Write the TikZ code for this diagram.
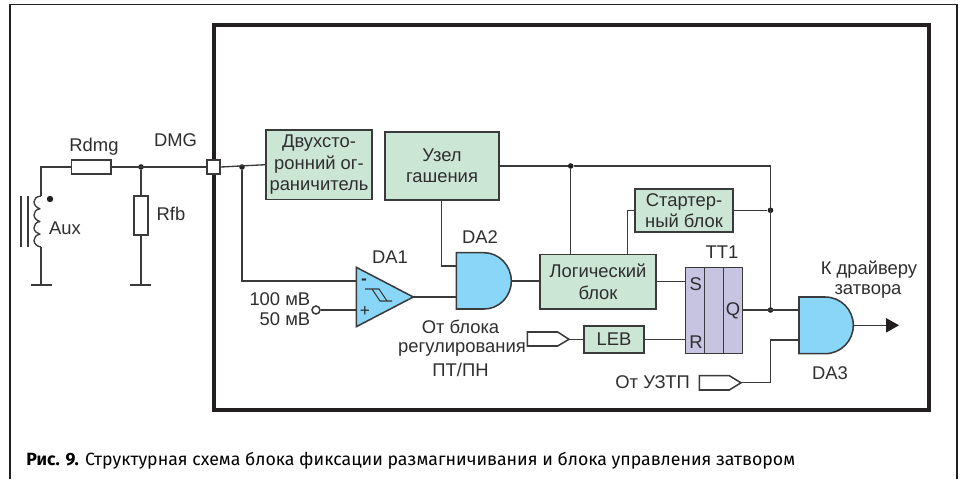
\documentclass[tikz,border=0pt]{standalone}
\usepackage{fontspec}
\setmainfont{Liberation Sans}
\newfontfamily\capfont{Fira Sans}
\definecolor{wirec}{HTML}{3A3A3A}
\definecolor{txtc}{HTML}{2E2E2E}
\definecolor{greenc}{HTML}{CCE6D6}
\definecolor{bluec}{HTML}{8AD6F8}
\definecolor{lavc}{HTML}{C6C4E1}
\definecolor{framec}{HTML}{231F20}
\tikzset{
  wire/.style={draw=wirec,line width=1pt},
  part/.style={draw=wirec,line width=1.15pt},
  gatefill/.style={part,fill=bluec},
  labeltxt/.style={text=txtc,font=\fontsize{13.8}{16}\selectfont,inner sep=0pt,align=center},
  greenbox/.style={part,fill=greenc,text=txtc,font=\fontsize{13.8}{16}\selectfont,inner sep=0pt,align=center},
  sz/.style 2 args={minimum width=#1*0.75pt,minimum height=#2*0.75pt},
  dotn/.style={circle,fill=framec,inner sep=0pt,minimum size=4.2pt},
  res/.style={part,fill=white,inner sep=0pt},
}
\begin{document}
\begin{tikzpicture}[x=0.75pt,y=-0.75pt]
\useasboundingbox (0,0) rectangle (961,479);
\fill[white] (0,0) rectangle (961,479);
% frames
\draw[draw=framec,line width=0.8pt] (10,479) -- (10,4.5) -- (957,4.5) -- (957,479);
\draw[draw=framec,line width=3pt] (214,24.5) rectangle (928.7,409.5);
% boxes
\node[greenbox,sz={106}{69.5}] (lim) at (319,164.7) {Двухсто-\\ронний ог-\\раничитель};
\node[greenbox,sz={114}{68}] (off) at (442,166) {Узел\\гашения};
\node[greenbox,sz={116}{54.5}] (logic) at (598,281.7) {Логический\\блок};
\node[greenbox,sz={98}{43}] (start) at (684,210.6) {Стартер-\\ный блок};
\node[greenbox,sz={60}{27}] (leb) at (614,339.3) {LEB};
% resistors
\node[res,sz={39.5}{14}] (rdmg) at (91.3,167) {};
\node[res,sz={14}{39.5}] (rfb) at (141,215.5) {};
\node[res,sz={13.5}{14}] (pad) at (213.5,167) {};
% named points
\coordinate (nL) at (41,167);
\coordinate (cTop) at (41,196);
\coordinate (cBot) at (41,247);
\coordinate (g1) at (41,285);
\coordinate (g1a) at (31,285);
\coordinate (g1b) at (52,285);
\coordinate (g2) at (141,285);
\coordinate (g2a) at (130,285);
\coordinate (g2b) at (151,285);
\node[dotn] (j1) at (141,167) {};
\node[dotn] (j2) at (242,167) {};
\node[dotn] (j3) at (570.7,166) {};
\node[dotn] (j4) at (770.5,210.3) {};
\node[dotn] (j5) at (770.5,310) {};
\coordinate (c1) at (242,281);
\coordinate (da1m) at (356.3,281);
\coordinate (da1p) at (356.3,310);
\coordinate (da1o) at (413.3,297);
\coordinate (da2a) at (456.3,266);
\coordinate (da2b) at (456.3,297);
\coordinate (da2o) at (511.3,281);
\coordinate (c2) at (441.7,266);
\coordinate (c3) at (770.5,166);
\coordinate (s1) at (627.7,254.5);
\coordinate (s2) at (627.7,210.3);
\coordinate (tS) at (685.7,281.7);
\coordinate (tR) at (685.7,339.3);
\coordinate (tQ) at (742.3,310);
\coordinate (da3a) at (799,310);
\coordinate (da3b) at (799,340);
\coordinate (da3o) at (853.3,325.3);
\coordinate (arr) at (887,325.3);
\coordinate (c4) at (770.5,340);
\coordinate (c5) at (770.5,382.8);
\coordinate (p1t) at (569,339.3);
\coordinate (p2t) at (741,382.8);
% wires
\draw[wire] (cTop) -- (nL) -- (rdmg.west);
\draw[wire] (rdmg.east) -- (pad.west);
\draw[wire] (pad.east) -- (lim.west);
\draw[wire] (j1) -- (rfb.north);
\draw[wire] (rfb.south) -- (g2);
\draw[wire] (cBot) -- (g1);
\draw[wire] (g1a) -- (g1b);
\draw[wire] (g2a) -- (g2b);
\draw[wire] (j2) -- (c1) -- (da1m);
\draw[wire] (da1o) -- (da2b);
\draw[wire] (off.south -| c2) -- (c2) -- (da2a);
\draw[wire] (da2o) -- (logic.west |- da2o);
\draw[wire] (off.east |- j3) -- (j3) -- (c3) -- (j5);
\draw[wire] (j3) -- (logic.north -| j3);
\draw[wire] (s1) -- (s2) -- (start.west |- s2);
\draw[wire] (start.east |- j4) -- (j4);
\draw[wire] (logic.east |- tS) -- (tS);
\draw[wire] (leb.east) -- (tR);
\draw[wire] (tQ) -- (da3a);
\draw[wire] (p2t) -- (c5) -- (c4) -- (da3b);
\draw[wire] (p1t) -- (leb.west);
\draw[wire] (da3o) -- (arr);
\fill[framec] (arr) ++(-1,-7.3) -- ++(13,7.3) -- ++(-13,7.3) -- cycle;
% coil
\draw[wire,line join=round] (cTop)
  .. controls (36,196.5) and (34,199) .. (34,202)
  .. controls (34,205) and (37,208) .. (40,208.8)
  .. controls (36,209.3) and (34,212) .. (34,215)
  .. controls (34,218) and (37,220.8) .. (40,221.5)
  .. controls (36,222) and (34,225) .. (34,228)
  .. controls (34,231) and (37,233.5) .. (40,234.2)
  .. controls (36,234.8) and (34,237.5) .. (34,240.5)
  .. controls (34,243.5) and (37,246.5) .. (cBot);
\draw[wire] (21,196) -- (21,247);
\draw[wire] (28,196) -- (28,247);
\node[dotn,minimum size=4.8pt] (cdot) at (50,199) {};
% DA1
\path[gatefill] (356.3,267.3) -- (da1o) -- (356.3,326.7) -- cycle;
\node[labeltxt,font=\fontsize{13}{14}\selectfont\bfseries] (minus) at (364,281.5) {-};
\node[labeltxt,font=\fontsize{13}{14}\selectfont] (plus) at (365,311) {+};
\draw[wire,line width=0.8pt] (365,289) -- (379,289) -- (387,301) -- (392,301);
\draw[wire,line width=0.8pt] (372,289) -- (380,301) -- (387,301);
% DA2, DA3
\path[gatefill] (456.3,252.7) -- (484,252.7) .. controls (499.1,252.7) and (511.3,265.5) .. (da2o) .. controls (511.3,296.5) and (499.1,309) .. (484,309) -- (456.3,309) -- cycle;
\path[gatefill] (799,297) -- (825,297) .. controls (841,297) and (853.3,309.8) .. (da3o) .. controls (853.3,340.8) and (841,353.7) .. (825,353.7) -- (799,353.7) -- cycle;
% TT1
\node[part,fill=lavc,inner sep=0pt,sz={19}{86}] (tta) at (695.2,310.3) {};
\node[part,fill=lavc,inner sep=0pt,sz={19}{86}] (ttb) at (714.2,310.3) {};
\node[part,fill=lavc,inner sep=0pt,sz={18.6}{86}] (ttc) at (733,310.3) {};
% input pentagons
\draw[part,fill=white] (527.3,332) -- (557.7,332) -- (p1t) -- (557.7,346) -- (527.3,346) -- cycle;
\draw[part,fill=white] (699.3,375.7) -- (729.3,375.7) -- (p2t) -- (729.3,390) -- (699.3,390) -- cycle;
% source circle
\node[circle,part,fill=white,inner sep=0pt,minimum size=6pt] (src) at (316,310) {};
\draw[wire] (src) -- (da1p);
% labels
\node[labeltxt] (lRd) at (94,147) {Rdmg};
\node[labeltxt] (lDM) at (175.5,140) {DMG};
\node[labeltxt] (lRf) at (171,214) {Rfb};
\node[labeltxt] (lAx) at (65,228) {Aux};
\node[labeltxt,anchor=east] (l100) at (310.5,299) {100 мВ};
\node[labeltxt,anchor=east] (l50) at (310.5,319) {50 мВ};
\node[labeltxt] (lD1) at (390,257) {DA1};
\node[labeltxt] (lD2) at (480,237) {DA2};
\node[labeltxt] (lD3) at (830,373) {DA3};
\node[labeltxt] (lT1) at (722,252) {TT1};
\node[labeltxt] (lS) at (695.7,284) {S};
\node[labeltxt] (lR) at (696,341.7) {R};
\node[labeltxt] (lQ) at (733,311) {Q};
\node[labeltxt] (lB1) at (460.5,327) {От блока};
\node[labeltxt] (lB2) at (462,349) {регулирования};
\node[labeltxt] (lB3) at (460.5,370) {ПТ/ПН};
\node[labeltxt] (lK1) at (869,270) {К драйверу};
\node[labeltxt] (lK2) at (868,291.5) {затвора};
\node[labeltxt,anchor=east] (lU) at (690,382) {От УЗТП};
\node[anchor=base west,inner sep=0pt,text=black,font=\capfont\fontsize{13.3}{16}\selectfont] (cap) at (26,465) {\textbf{Рис. 9.} Структурная схема блока фиксации размагничивания и блока управления затвором};
\end{tikzpicture}
\end{document}
